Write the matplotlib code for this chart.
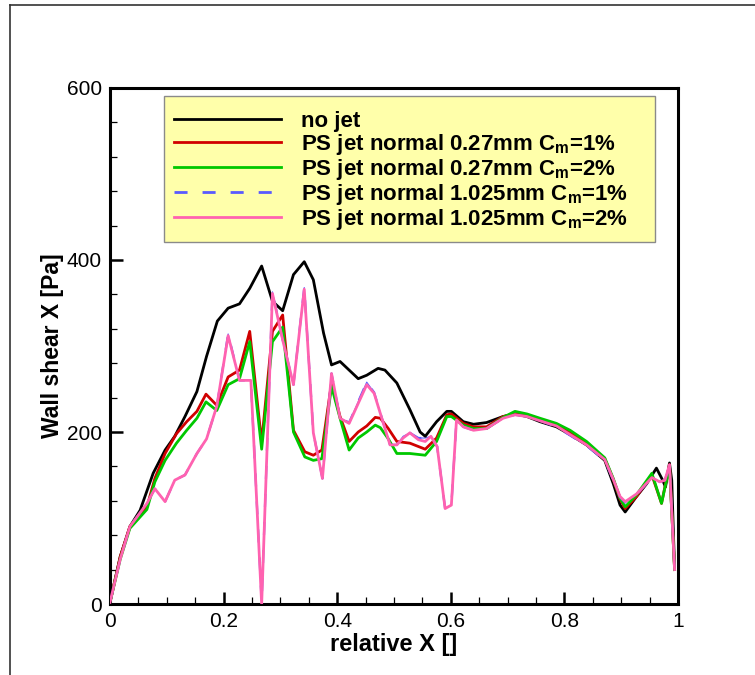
import numpy as np
import matplotlib
matplotlib.use('Agg')
import matplotlib.pyplot as plt
from matplotlib.lines import Line2D

plt.rcParams['font.family'] = ['Liberation Sans', 'DejaVu Sans']
plt.rcParams['mathtext.fontset'] = 'custom'
plt.rcParams['mathtext.rm'] = 'Liberation Sans'
plt.rcParams['mathtext.bf'] = 'Liberation Sans:bold'
plt.rcParams['lines.scale_dashes'] = False

# Data
x_nojet = [0, 0.018, 0.035, 0.053, 0.076, 0.097, 0.114, 0.132, 0.153, 0.170, 0.189, 0.208,
           0.228, 0.246, 0.267, 0.286, 0.304, 0.323, 0.342, 0.358, 0.376, 0.390, 0.405, 0.437,
           0.452, 0.472, 0.484, 0.505, 0.528, 0.546, 0.555, 0.575, 0.593, 0.601, 0.622, 0.640,
           0.663, 0.692, 0.713, 0.734, 0.757, 0.786, 0.810, 0.839, 0.871, 0.886, 0.898, 0.907,
           0.927, 0.945, 0.962, 0.973, 0.978, 0.985, 0.989, 0.994]
y_nojet = [2, 55, 90, 109, 152, 179, 195, 218, 247, 288, 329, 344,
           349, 367, 393, 352, 341, 383, 398, 377, 315, 278, 282, 262,
           266, 274, 272, 257, 226, 200, 195, 212, 224, 224, 212, 209,
           211, 218, 221, 218, 212, 206, 197, 185, 167, 140, 115, 107,
           125, 140, 158, 144, 136, 164, 144, 40]

x_027 = [0, 0.018, 0.035, 0.065, 0.079, 0.097, 0.117, 0.135, 0.153, 0.169, 0.188, 0.208,
         0.228, 0.246, 0.267, 0.286, 0.304, 0.323, 0.343, 0.358, 0.373, 0.390, 0.405, 0.421,
         0.437, 0.452, 0.467, 0.476, 0.490, 0.505, 0.528, 0.555, 0.575, 0.593, 0.601, 0.622,
         0.640, 0.663, 0.692, 0.713, 0.734, 0.757, 0.786, 0.810, 0.839, 0.871, 0.886, 0.898,
         0.907, 0.927, 0.954, 0.971, 0.985, 0.994]
y_027_1 = [2, 55, 90, 113, 146, 175, 198, 212, 224, 244, 231, 264,
           272, 317, 188, 317, 336, 202, 177, 173, 179, 257, 218, 189,
           200, 207, 217, 216, 204, 189, 187, 180, 193, 220, 221, 210,
           206, 206, 218, 221, 219, 214, 208, 199, 187, 169, 145, 122,
           111, 125, 150, 117, 162, 40]
y_027_2 = [2, 52, 88, 110, 142, 167, 187, 202, 216, 235, 225, 255,
           262, 305, 180, 305, 322, 200, 171, 167, 169, 253, 216, 179,
           193, 200, 208, 205, 192, 175, 175, 173, 189, 218, 218, 208,
           204, 204, 217, 224, 221, 216, 210, 202, 189, 170, 146, 123,
           113, 127, 152, 117, 160, 40]

x_1025 = [0, 0.018, 0.035, 0.065, 0.079, 0.097, 0.114, 0.132, 0.153, 0.170, 0.188, 0.208,
          0.228, 0.248, 0.267, 0.286, 0.304, 0.323, 0.342, 0.358, 0.374, 0.390, 0.405, 0.421,
          0.452, 0.465, 0.493, 0.505, 0.516, 0.528, 0.543, 0.555, 0.565, 0.576, 0.590, 0.601,
          0.610, 0.622, 0.640, 0.663, 0.692, 0.713, 0.734, 0.757, 0.786, 0.810, 0.839, 0.871,
          0.886, 0.898, 0.907, 0.927, 0.954, 0.968, 0.977, 0.985, 0.994]
y_1025_1 = [2, 52, 90, 117, 134, 119, 144, 150, 175, 192, 230, 314,
            260, 260, 2, 363, 307, 255, 368, 199, 146, 268, 216, 211,
            258, 246, 185, 185, 195, 199, 193, 193, 195, 183, 111, 115,
            214, 206, 202, 204, 216, 220, 218, 213, 206, 196, 184, 167,
            144, 124, 118, 127, 147, 142, 144, 162, 40]
y_1025_2 = [2, 52, 90, 117, 134, 119, 144, 150, 175, 192, 230, 312,
            260, 260, 0, 361, 307, 255, 366, 199, 146, 268, 216, 210,
            255, 245, 185, 185, 193, 199, 191, 189, 195, 183, 111, 115,
            214, 206, 202, 204, 216, 220, 218, 213, 207, 197, 185, 168,
            145, 125, 119, 128, 147, 142, 144, 162, 40]

labels = ['no jet',
          r'PS jet normal 0.27mm C$_\mathbf{m}$=1%',
          r'PS jet normal 0.27mm C$_\mathbf{m}$=2%',
          r'PS jet normal 1.025mm C$_\mathbf{m}$=1%',
          r'PS jet normal 1.025mm C$_\mathbf{m}$=2%']

fig = plt.figure(figsize=(7.55, 6.75), dpi=100)
ax = fig.add_axes([110 / 755, 71 / 675, 568 / 755, 516 / 675])

# outer frame lines (top and left)
fig.add_artist(Line2D([10 / 755, 10 / 755], [0, 1 - 5 / 675], color='#333333', lw=1.2))
fig.add_artist(Line2D([10 / 755, 1], [1 - 5 / 675, 1 - 5 / 675], color='#333333', lw=1.2))

lw = 2.0
l1, = ax.plot(x_nojet, y_nojet, color='black', lw=lw, label=labels[0])
l2, = ax.plot(x_027, y_027_1, color='#d00000', lw=lw, label=labels[1])
l3, = ax.plot(x_027, y_027_2, color='#00c800', lw=lw, label=labels[2])
l4, = ax.plot(x_1025, y_1025_1, color='#5a5aff', lw=1.6, linestyle=(0, (9.4, 10.8)), label=labels[3])
l5, = ax.plot(x_1025, y_1025_2, color='#ff62b0', lw=lw, label=labels[4])
ax.plot(x_1025, y_1025_1, color='#5a5aff', lw=0.8, zorder=1)
l5.set_zorder(3)

ax.set_xlim(0, 1)
ax.set_ylim(0, 600)
ax.set_xticks(np.arange(0, 1.01, 0.2))
ax.set_xticks(np.arange(0, 1.01, 0.05), minor=True)
ax.set_yticks(np.arange(0, 601, 200))
ax.set_yticks(np.arange(0, 601, 40), minor=True)
ax.set_xticklabels(['0', '0.2', '0.4', '0.6', '0.8', '1'])
ax.tick_params(which='major', direction='in', length=9, width=1.8, labelsize=15, pad=6)
ax.tick_params(which='minor', direction='in', length=5, width=0.9)
for s in ax.spines.values():
    s.set_linewidth(2.2)

ax.set_xlabel('relative X []', fontsize=17, fontweight='bold', labelpad=1)
ax.set_ylabel('Wall shear X [Pa]', fontsize=16.5, fontweight='bold', labelpad=2)

leg = ax.legend(handles=[l1, l2, l3, l4, l5], loc='upper left',
                bbox_to_anchor=(0.095, 0.705, 0.8645, 0.28), mode='expand',
                prop={'weight': 'bold', 'size': 16}, handlelength=4.8,
                handletextpad=0.9, borderpad=0.45, labelspacing=0.0,
                title=' ', title_fontsize=4,
                fancybox=False, framealpha=1, borderaxespad=0)
leg.get_frame().set_facecolor('#ffffaa')
leg.get_frame().set_edgecolor('#8a8a8a')
leg.get_frame().set_linewidth(1.0)
for h in leg.legend_handles:
    h.set_linewidth(2.0)

plt.savefig('out.png', dpi=100)
